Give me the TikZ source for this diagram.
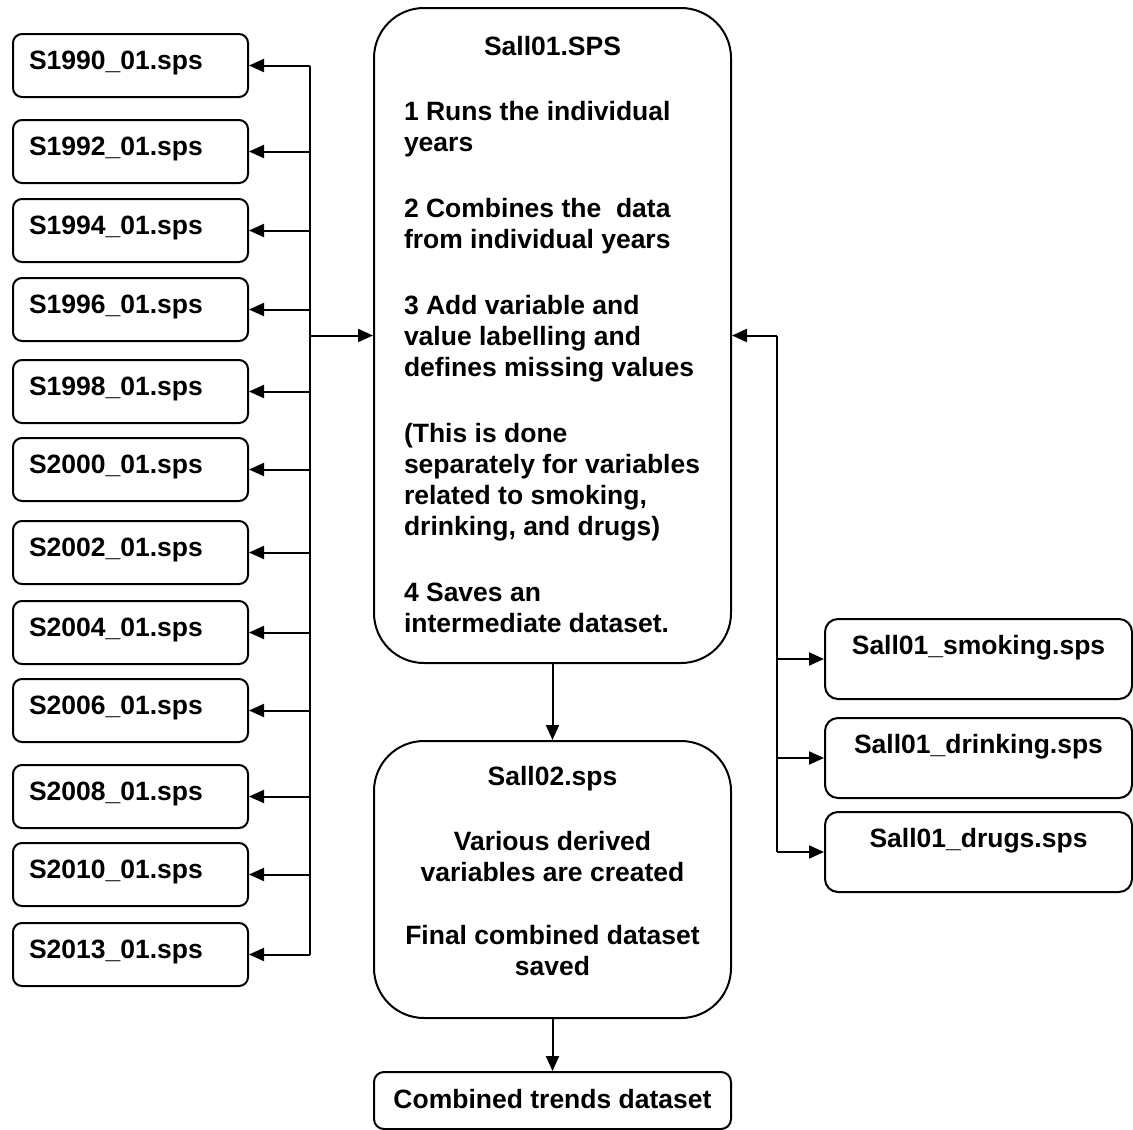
\documentclass[tikz,border=0pt]{standalone}
\usepackage{fontspec}
\setmainfont{Liberation Sans}
\usetikzlibrary{arrows.meta}
\tikzset{
  base/.style={draw, line width=2pt, inner sep=0pt, font=\bfseries\fontsize{26.5}{31}\selectfont},
  yearbox/.style={base, rounded corners=9pt, minimum width=235pt, minimum height=63pt,
    text width=203pt, align=left, inner xsep=16pt, text height=19pt, text depth=12pt, anchor=north west},
  subbox/.style={base, rounded corners=13pt, minimum width=307pt, minimum height=80pt,
    text height=19pt, text depth=29pt, anchor=north west},
  bigbox/.style={base, rounded corners=50pt, minimum width=357pt, anchor=north west},
  outbox/.style={base, rounded corners=10pt, minimum width=357pt, minimum height=57pt,
    text height=19pt, text depth=4pt, anchor=north west},
  conn/.style={line width=2pt},
  arr/.style={line width=2pt, -{Triangle[length=15pt,width=13pt]}}
}
\begin{document}
\begin{tikzpicture}[x=1pt,y=-1pt]
\useasboundingbox (0,0) rectangle (1133,1130);
% left column
\node[yearbox] (b1)  at (12,33)  {S1990\_01.sps};
\node[yearbox] (b2)  at (12,119) {S1992\_01.sps};
\node[yearbox] (b3)  at (12,198) {S1994\_01.sps};
\node[yearbox] (b4)  at (12,277) {S1996\_01.sps};
\node[yearbox] (b5)  at (12,359) {S1998\_01.sps};
\node[yearbox] (b6)  at (12,437) {S2000\_01.sps};
\node[yearbox] (b7)  at (12,520) {S2002\_01.sps};
\node[yearbox] (b8)  at (12,600) {S2004\_01.sps};
\node[yearbox] (b9)  at (12,678) {S2006\_01.sps};
\node[yearbox] (b10) at (12,764) {S2008\_01.sps};
\node[yearbox] (b11) at (12,842) {S2010\_01.sps};
\node[yearbox] (b12) at (12,922) {S2013\_01.sps};
% main box
\node[bigbox, minimum height=655pt] (main) at (373,7) {\parbox[c][655pt][t]{297pt}{%
  \vspace*{28.7pt}%
  \centering Sall01.SPS\par
  \vspace{34pt}%
  \raggedright
  1 Runs the individual\\ years\par
  \vspace{35pt}%
  2 Combines the~ data\\ from individual years\par
  \vspace{35pt}%
  3 Add variable and\\ value labelling and\\ defines missing values\par
  \vspace{35pt}%
  (This is done\\ separately for variables\\ related to smoking,\\ drinking, and drugs)\par
  \vspace{35pt}%
  4 Saves an\\ intermediate dataset.\par}};
% second box
\node[bigbox, minimum height=277pt] (sall2) at (373,740) {\parbox[c][277pt][t]{330pt}{%
  \vspace*{25.7pt}%
  \centering Sall02.sps\par
  \vspace{34pt}%
  Various derived\\ variables are created\par
  \vspace{32pt}%
  Final combined dataset\\ saved\par}};
% output
\node[outbox] (comb) at (373,1071) {Combined trends dataset};
% right column
\node[subbox] (smok)  at (824,618) {Sall01\_smoking.sps};
\node[subbox] (drink) at (824,717) {Sall01\_drinking.sps};
\node[subbox] (drug)  at (824,811) {Sall01\_drugs.sps};
% left bus
\coordinate (lbus) at (310,0);
\draw[conn] (lbus |- b1.east) -- (lbus |- b12.east);
\foreach \b in {b1,b2,b3,b4,b5,b6,b7,b8,b9,b10,b11,b12}
  \draw[arr] (lbus |- \b.east) -- (\b.east);
\draw[arr] (lbus |- main.west) -- (main.west);
% right bus
\coordinate (rbus) at (777,0);
\draw[arr] (rbus |- main.east) -- (main.east);
\draw[conn] (rbus |- main.east) -- (rbus |- drug.west);
\foreach \b in {smok,drink,drug}
  \draw[arr] (rbus |- \b.west) -- (\b.west);
% vertical flow
\draw[arr] (main.south) -- (sall2.north);
\draw[arr] (sall2.south) -- (comb.north);
\end{tikzpicture}
\end{document}
